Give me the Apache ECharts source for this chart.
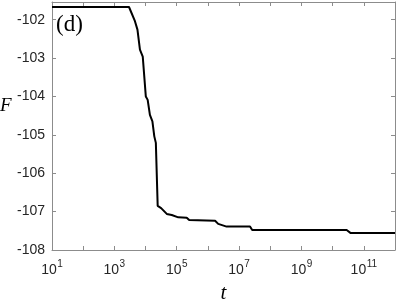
<!DOCTYPE html>
<html>
<head>
<meta charset="utf-8">
<script src="https://cdn.jsdelivr.net/npm/echarts@6/dist/echarts.min.js"></script>
<style>
html, body { margin: 0; padding: 0; background: #fff; }
#main { width: 399px; height: 303px; }
</style>
</head>
<body>
<div id="main"></div>
<script>
// t values (log axis) and F values
var tVals = [10, 2950, 4570, 5500, 6610, 8130, 10200, 11700, 13800, 16600, 19100, 21400,
	24500, 31600, 47900, 69200, 112000, 209000, 251000, 1.70e6, 2.14e6, 3.98e6,
	2.24e7, 2.63e7, 2.82e10, 3.80e10, 1e12];
var fVals = [-101.67, -101.67, -102.04, -102.26, -102.78, -102.96, -104.0, -104.09, -104.48, -104.65, -105.04, -105.21,
	-106.85, -106.91, -107.06, -107.09, -107.15, -107.16, -107.22, -107.24, -107.32, -107.39,
	-107.39, -107.48, -107.48, -107.56, -107.56];
var xTickExp = [1, 3, 5, 7, 9, 11]; // labelled decades
var yTicks = [-102, -103, -104, -105, -106, -107, -108];

var axisCol = '#8c8c8c';
var labelCol = '#262626';

// x is drawn on log10(t)
var lineData = [];
for (var i = 0; i < tVals.length; i++) {
	lineData.push([Math.log10(tVals[i]), fVals[i]]);
}

var xBase = {
	type: 'value',
	min: 1,
	max: 12,
	interval: 1,
	splitLine: { show: false },
	axisLine: { lineStyle: { color: axisCol, width: 1 } },
	axisTick: { inside: true, length: 4, lineStyle: { color: axisCol } }
};
var yBase = {
	type: 'value',
	min: -108,
	max: -101.54,
	interval: 1,
	splitLine: { show: false },
	axisLine: { lineStyle: { color: axisCol, width: 1 } },
	axisTick: { inside: true, length: 4, lineStyle: { color: axisCol } }
};

option = {
	animation: false,
	grid: { left: 52, right: 4, top: 2, bottom: 53, containLabel: false, outerBoundsMode: 'none' },
	xAxis: [
		Object.assign({}, xBase, {
			position: 'bottom',
			name: 't',
			nameLocation: 'middle',
			nameGap: 33,
			nameTextStyle: { fontFamily: 'Liberation Serif', fontStyle: 'italic', fontSize: 21, color: '#000' },
			axisLabel: {
				margin: 9,
				color: labelCol,
				formatter: function (v) {
					return xTickExp.indexOf(v) >= 0 ? '{b|10}{s|' + v + '}' : '';
				},
				rich: {
					b: { fontFamily: 'Liberation Sans', fontSize: 14, color: labelCol, lineHeight: 18, verticalAlign: 'bottom' },
					s: { fontFamily: 'Liberation Sans', fontSize: 10, color: labelCol, lineHeight: 18, verticalAlign: 'top', padding: [0, 0, 0, 0.5] }
				}
			}
		}),
		Object.assign({}, xBase, { position: 'top', axisLabel: { show: false } })
	],
	yAxis: [
		Object.assign({}, yBase, {
			position: 'left',
			axisLabel: {
				margin: 7,
				showMaxLabel: false,
				color: labelCol,
				fontFamily: 'Liberation Sans',
				fontSize: 14,
				formatter: function (v) {
					return yTicks.indexOf(v) >= 0 ? String(v) : '';
				}
			}
		}),
		Object.assign({}, yBase, { position: 'right', axisLabel: { show: false } })
	],
	graphic: [{
		type: 'text',
		left: 0,
		top: 96,
		style: { text: 'F', fontFamily: 'Liberation Serif', fontStyle: 'italic', fontSize: 19, fill: '#000' }
	}, {
		type: 'text',
		left: 56,
		top: 13,
		style: { text: '(d)', fontFamily: 'Liberation Serif', fontSize: 23, fill: '#000' }
	}],
	series: [{
		type: 'line',
		data: lineData,
		showSymbol: false,
		lineStyle: { color: '#000', width: 2 }
	}]
};
var myChart = echarts.init(document.getElementById('main'));
myChart.setOption(option);
</script>
</body>
</html>
